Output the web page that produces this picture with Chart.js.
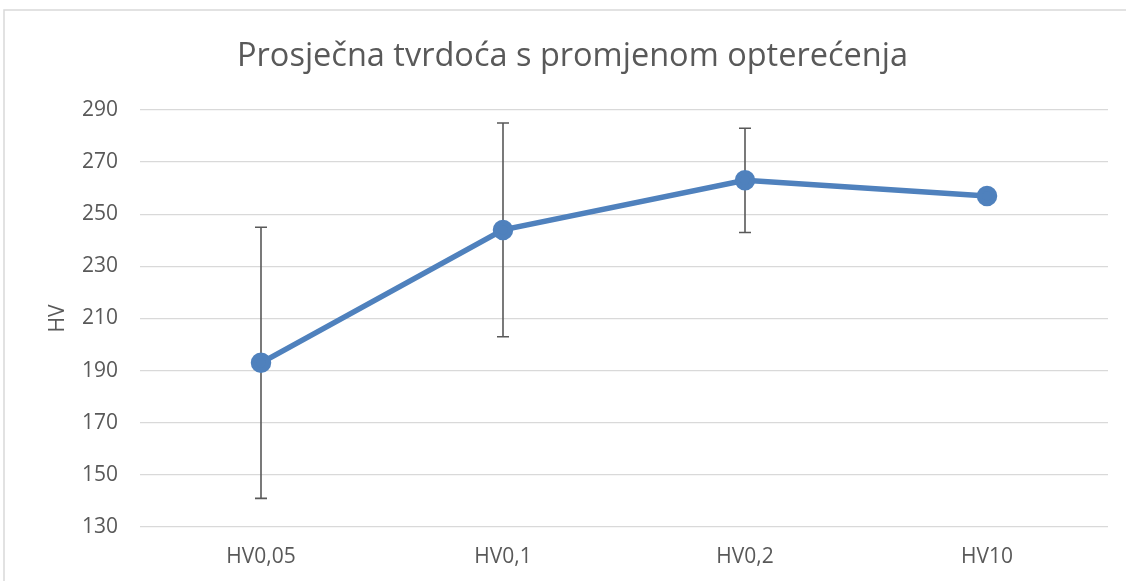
<!DOCTYPE html>
<html>
<head>
<meta charset="utf-8">
<script src="https://cdn.jsdelivr.net/npm/chart.js@4"></script>
<style>
  html, body { margin: 0; padding: 0; background: #fff; }
  #wrap { width: 1126px; height: 581px; }
</style>
</head>
<body>
<div id="wrap"><canvas id="myChart" width="1126" height="581"></canvas></div>
<script>
// Average hardness per test load, with standard deviation
var loads = ['HV0,05', 'HV0,1', 'HV0,2', 'HV10'];
var hardness = [193, 244, 263, 257];
var deviation = [52, 41, 20, 0];
var yTicks = [130, 150, 170, 190, 210, 230, 250, 270, 290];

var textColor = '#595959';
var fontName = '"Open Sans", "Noto Sans", sans-serif';

// frame edge along the top and left of the chart
var framePlugin = {
  id: 'frame',
  beforeDraw: function(chart) {
    var c = chart.ctx;
    c.save();
    c.fillStyle = '#fff';
    c.fillRect(0, 0, chart.width, chart.height);
    c.strokeStyle = '#d9d9d9';
    c.lineWidth = 1.5;
    c.beginPath();
    c.moveTo(4, chart.height);
    c.lineTo(4, 10);
    c.lineTo(chart.width, 10);
    c.stroke();
    c.restore();
  }
};

// vertical error bars with caps, drawn under the line
var errorBars = {
  id: 'errorBars',
  beforeDatasetsDraw: function(chart) {
    var c = chart.ctx;
    var xs = chart.scales.x, ys = chart.scales.y;
    c.save();
    c.strokeStyle = '#595959';
    c.lineWidth = 1.6;
    for (var i = 0; i < hardness.length; i++) {
      if (!deviation[i]) continue;
      var x = xs.getPixelForValue(i);
      var top = ys.getPixelForValue(hardness[i] + deviation[i]);
      var bot = ys.getPixelForValue(hardness[i] - deviation[i]);
      c.beginPath();
      c.moveTo(x, top); c.lineTo(x, bot);
      c.moveTo(x - 6, top); c.lineTo(x + 6, top);
      c.moveTo(x - 6, bot); c.lineTo(x + 6, bot);
      c.stroke();
    }
    c.restore();
  }
};

var ctx = document.getElementById('myChart').getContext('2d');
var myChart = new Chart(ctx, {
  type: 'line',
  data: {
    labels: loads,
    datasets: [{
      label: 'HV',
      data: hardness,
      borderColor: '#4f81bd',
      backgroundColor: '#4f81bd',
      borderWidth: 5.5,
      pointRadius: 7.5,
      pointHoverRadius: 7.5,
      tension: 0
    }]
  },
  options: {
    responsive: false,
    animation: false,
    layout: { padding: { top: 10, right: 18, bottom: 0, left: 37 } },
    plugins: {
      legend: { display: false },
      tooltip: { enabled: false },
      title: {
        display: true,
        text: 'Prosječna tvrdoća s promjenom opterećenja',
        color: textColor,
        font: { family: fontName, size: 32.5, weight: 'normal' },
        padding: { top: 27, bottom: 34 }
      }
    },
    scales: {
      x: {
        offset: true,
        grid: { display: false },
        border: { display: false },
        ticks: { color: textColor, font: { family: fontName, size: 21 }, padding: 9 },
        afterFit: function(s) { s.height = 54; }
      },
      y: {
        min: 130,
        max: 290,
        afterBuildTicks: function(s) { s.ticks = yTicks.map(function(v) { return { value: v }; }); },
        grid: { color: '#d9d9d9', lineWidth: 1.3, drawTicks: false },
        border: { display: false },
        ticks: { color: textColor, font: { family: fontName, size: 21 }, padding: 22 },
        title: {
          display: true,
          text: 'HV',
          color: textColor,
          font: { family: fontName, size: 21 },
          padding: { top: 8, bottom: 0 }
        },
        afterFit: function(s) { s.width = 103; }
      }
    }
  },
  plugins: [framePlugin, errorBars]
});
</script>
</body>
</html>
